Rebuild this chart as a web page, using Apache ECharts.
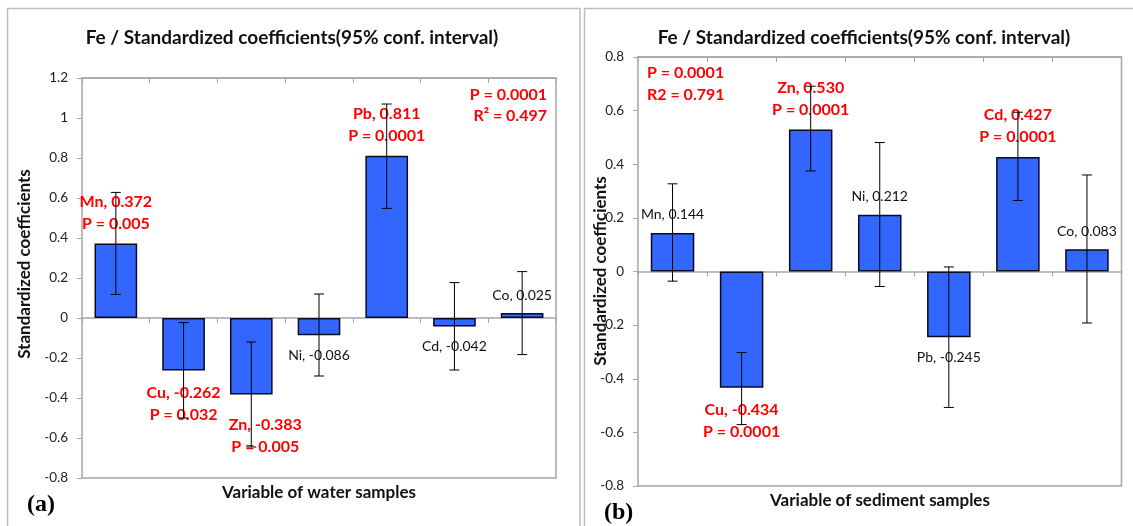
<!DOCTYPE html>
<html>
<head>
<meta charset="utf-8">
<script src="https://cdn.jsdelivr.net/npm/echarts@6/dist/echarts.min.js"></script>
<style>
  html, body { margin: 0; padding: 0; background: #fff; }
  #chart { width: 1133px; height: 526px; }
</style>
</head>
<body>
<div id="chart"></div>
<script>
// categories (same elements in both panels)
const elements = ['Mn', 'Cu', 'Zn', 'Ni', 'Pb', 'Cd', 'Co'];

// (a) water samples
const waterCoef = [0.372, -0.262, -0.383, -0.086, 0.811, -0.042, 0.025];
const waterLow = [0.118, -0.50, -0.645, -0.29, 0.548, -0.26, -0.183];
const waterHigh = [0.628, -0.023, -0.12, 0.12, 1.07, 0.177, 0.232];
const waterP = ['0.005', '0.032', '0.005', null, '0.0001', null, null];

// (b) sediment samples
const sedCoef = [0.144, -0.434, 0.530, 0.212, -0.245, 0.427, 0.083];
const sedLow = [-0.036, -0.571, 0.375, -0.056, -0.507, 0.265, -0.192];
const sedHigh = [0.327, -0.302, 0.691, 0.481, 0.017, 0.594, 0.36];
const sedP = [null, '0.0001', '0.0001', null, null, '0.0001', null];

const yTicksWater = { min: -0.8, max: 1.2, interval: 0.2 };
const yTicksSed = { min: -0.8, max: 0.8, interval: 0.2 };

const FONT = 'Lato';
const frameGray = '#a6a6a6';

let chart = echarts.init(document.getElementById('chart'), null, { renderer: 'canvas' });

function barData(coef, pvals, shift) {
  return coef.map((v, i) => {
    const sig = pvals[i] !== null;
    const txt = elements[i] + ', ' + v.toFixed(3) + (sig ? '\nP = ' + pvals[i] : '');
    return {
      value: v,
      label: {
        show: true,
        position: v >= 0 ? 'top' : 'bottom',
        distance: v >= 0 ? 9 : 11,
        offset: shift[i] || [0, 0],
        formatter: txt,
        color: sig ? '#ff0000' : '#111',
        fontWeight: sig ? 'bold' : 'normal',
        fontSize: sig ? 16 : 14,
        lineHeight: sig ? 22 : 18,
        fontFamily: FONT
      }
    };
  });
}

function errData(low, high) {
  return low.map((lo, i) => [i, lo, high[i]]);
}

function renderErr(params, api) {
  const lo = api.coord([api.value(0), api.value(1)]);
  const hi = api.coord([api.value(0), api.value(2)]);
  const cap = 5;
  const st = { stroke: '#000', lineWidth: 1 };
  return {
    type: 'group',
    children: [
      { type: 'line', shape: { x1: hi[0], y1: hi[1], x2: lo[0], y2: lo[1] }, style: st },
      { type: 'line', shape: { x1: hi[0] - cap, y1: hi[1], x2: hi[0] + cap, y2: hi[1] }, style: st },
      { type: 'line', shape: { x1: lo[0] - cap, y1: lo[1], x2: lo[0] + cap, y2: lo[1] }, style: st }
    ]
  };
}

function xAxes(gridIndex) {
  const base = {
    type: 'category',
    data: elements,
    gridIndex: gridIndex,
    axisLabel: { show: false },
    axisLine: { onZero: true, lineStyle: { color: frameGray, width: 1.5 } },
    splitLine: { show: false }
  };
  return [
    Object.assign({}, base, { axisTick: { show: true, length: 5, lineStyle: { color: frameGray } } }),
    Object.assign({}, base, { axisTick: { show: true, inside: true, length: 5, lineStyle: { color: frameGray } } })
  ];
}

function yAxis(gridIndex, ticks) {
  return {
    type: 'value',
    gridIndex: gridIndex,
    min: ticks.min,
    max: ticks.max,
    interval: ticks.interval,
    axisLine: { show: false },
    axisTick: { show: true, length: 5, lineStyle: { color: frameGray } },
    splitLine: { show: false },
    axisLabel: { color: '#222', fontSize: 13.5, fontFamily: FONT, margin: 14 }
  };
}

const titleStyle = { fill: '#111', fontWeight: 'bold', fontSize: 19, fontFamily: FONT };
const nameStyle = { fill: '#111', fontWeight: 'bold', fontSize: 17, fontFamily: FONT, align: 'center', verticalAlign: 'middle' };

const option = {
  animation: false,
  backgroundColor: '#fff',
  grid: [
    { left: 82, right: 577, top: 78, height: 400, show: true, borderColor: frameGray, borderWidth: 1.5 },
    { left: 638, right: 11.5, top: 57, height: 429, show: true, borderColor: frameGray, borderWidth: 1.5 }
  ],
  xAxis: xAxes(0).concat(xAxes(1)),
  yAxis: [yAxis(0, yTicksWater), yAxis(1, yTicksSed)],
  series: [
    {
      type: 'bar', xAxisIndex: 0, yAxisIndex: 0, barWidth: '63%',
      itemStyle: { color: '#3366ff', borderColor: '#0a0a20', borderWidth: 1.5 },
      data: barData(waterCoef, waterP, { 2: [14, 8] }),
      z: 2
    },
    {
      type: 'custom', xAxisIndex: 0, yAxisIndex: 0,
      renderItem: renderErr, data: errData(waterLow, waterHigh), z: 3
    },
    {
      type: 'bar', xAxisIndex: 2, yAxisIndex: 1, barWidth: '63%',
      itemStyle: { color: '#3366ff', borderColor: '#0a0a20', borderWidth: 1.5 },
      data: barData(sedCoef, sedP, {}),
      z: 2
    },
    {
      type: 'custom', xAxisIndex: 2, yAxisIndex: 1,
      renderItem: renderErr, data: errData(sedLow, sedHigh), z: 3
    }
  ],
  graphic: [
    // panel borders
    { type: 'rect', shape: { x: 7.5, y: 8.5, width: 572.5, height: 540 }, style: { fill: null, stroke: '#bdbdbd', lineWidth: 1.5 }, z: 0 },
    { type: 'rect', shape: { x: 584.5, y: 8.5, width: 580, height: 540 }, style: { fill: null, stroke: '#bdbdbd', lineWidth: 1.5 }, z: 0 },
    // titles
    { type: 'text', x: 292, y: 38, style: Object.assign({ text: 'Fe / Standardized coefficients(95% conf. interval)', align: 'center', verticalAlign: 'middle' }, titleStyle) },
    { type: 'text', x: 864, y: 38, style: Object.assign({ text: 'Fe / Standardized coefficients(95% conf. interval)', align: 'center', verticalAlign: 'middle' }, titleStyle) },
    // axis names
    { type: 'text', x: 25, y: 264, rotation: Math.PI / 2, style: Object.assign({ text: 'Standardized coefficients' }, nameStyle) },
    { type: 'text', x: 601, y: 271, rotation: Math.PI / 2, style: Object.assign({ text: 'Standardized coefficients' }, nameStyle) },
    { type: 'text', x: 319, y: 493, style: Object.assign({ text: 'Variable of water samples' }, nameStyle) },
    { type: 'text', x: 880, y: 501, style: Object.assign({ text: 'Variable of sediment samples' }, nameStyle) },
    // panel letters
    { type: 'text', x: 27, y: 505, style: { text: '(a)', align: 'left', verticalAlign: 'middle', fill: '#000', fontWeight: 'bold', fontSize: 24, fontFamily: 'Liberation Serif' } },
    { type: 'text', x: 604, y: 513, style: { text: '(b)', align: 'left', verticalAlign: 'middle', fill: '#000', fontWeight: 'bold', fontSize: 24, fontFamily: 'Liberation Serif' } },
    // model statistics
    { type: 'text', x: 547, y: 105, style: { text: 'P = 0.0001\nR² = 0.497', align: 'right', verticalAlign: 'middle', lineHeight: 21, fill: '#ff0000', fontWeight: 'bold', fontSize: 16, fontFamily: FONT } },
    { type: 'text', x: 647, y: 84, style: { text: 'P = 0.0001\nR2 = 0.791', align: 'left', verticalAlign: 'middle', lineHeight: 22, fill: '#ff0000', fontWeight: 'bold', fontSize: 16, fontFamily: FONT } }
  ]
};

chart.setOption(option);
</script>
</body>
</html>
